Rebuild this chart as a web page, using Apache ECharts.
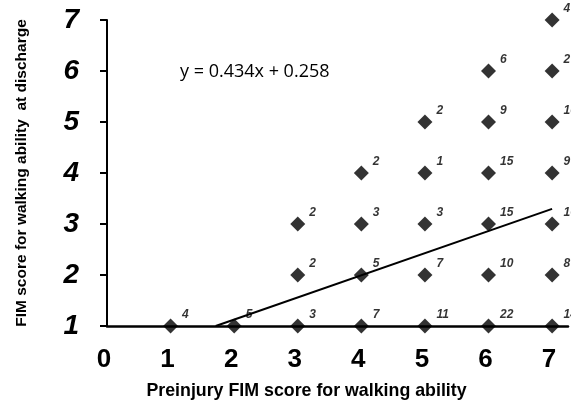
<!DOCTYPE html>
<html>
<head>
<meta charset="utf-8">
<script src="https://cdn.jsdelivr.net/npm/echarts@6/dist/echarts.min.js"></script>
<style>html,body{margin:0;padding:0;background:#fff}#c{width:571px;height:407px}</style>
</head>
<body>
<div id="c"></div>
<script>
// Preinjury score (x), discharge score (y), number of patients (n)
const pointX = [1, 2, 3, 3, 3, 4, 4, 4, 4, 5, 5, 5, 5, 5, 6, 6, 6, 6, 6, 6, 7, 7, 7, 7, 7, 7, 7];
const pointY = [1, 1, 1, 2, 3, 1, 2, 3, 4, 1, 2, 3, 4, 5, 1, 2, 3, 4, 5, 6, 1, 2, 3, 4, 5, 6, 7];
const counts = [4, 5, 3, 2, 2, 7, 5, 3, 2, 11, 7, 3, 1, 2, 22, 10, 15, 15, 9, 6, 14, 8, 16, 9, 10, 2, 4];
const slope = 0.434;
const intercept = 0.258;
const trendX = [(1 - intercept) / slope, 7];
const equationText = 'y = 0.434x + 0.258';
const xTicks = [0, 1, 2, 3, 4, 5, 6, 7];
const yTicks = [1, 2, 3, 4, 5, 6, 7];

const chart = echarts.init(document.getElementById('c'), null, {renderer: 'canvas'});
const scatterData = pointX.map((x, i) => [x, pointY[i], counts[i]]);
const trendData = trendX.map(x => [x, slope * x + intercept]);

chart.setOption({
  animation: false,
  backgroundColor: '#fff',
  grid: {left: 107, top: 20, right: 0, bottom: 81, containLabel: false},
  xAxis: {
    type: 'value', min: 0, max: 7.25, interval: 1,
    name: 'Preinjury FIM score for walking ability',
    nameLocation: 'middle', nameGap: 56,
    nameTextStyle: {fontFamily: 'Liberation Sans', fontWeight: 'bold', fontSize: 17.8, color: '#000', padding: [0, 62, 0, 0]},
    axisLine: {show: true, lineStyle: {color: '#000', width: 2.5}},
    axisTick: {show: false},
    splitLine: {show: false},
    axisLabel: {
      fontFamily: 'Liberation Sans', fontWeight: 'bold', fontSize: 26, color: '#000', margin: 21,
      padding: [0, 6, 0, 0],
      formatter: v => xTicks.indexOf(v) >= 0 ? String(v) : ''
    }
  },
  yAxis: {
    type: 'value', min: 1, max: 7, interval: 1,
    name: 'FIM score for walking ability  at discharge',
    nameLocation: 'middle', nameGap: 77, nameRotate: 90,
    nameTextStyle: {fontFamily: 'Liberation Sans', fontWeight: 'bold', fontSize: 15.5, color: '#000'},
    axisLine: {show: true, lineStyle: {color: '#000', width: 2}},
    axisTick: {show: true, inside: false, length: 7, lineStyle: {color: '#000', width: 2}},
    splitLine: {show: false},
    axisLabel: {
      fontFamily: 'Liberation Sans', fontWeight: 'bold', fontStyle: 'italic', fontSize: 28, color: '#000', margin: 28,
      formatter: v => yTicks.indexOf(v) >= 0 ? String(v) : ''
    }
  },
  graphic: [{
    type: 'text', left: 180, top: 63,
    style: {text: equationText, font: '18px "Open Sans"', fill: '#000'}
  }],
  series: [
    {
      type: 'line', data: trendData, symbol: 'none', silent: true, z: 1,
      lineStyle: {color: '#000', width: 2}
    },
    {
      type: 'scatter', data: scatterData, symbol: 'diamond', symbolSize: 15, z: 3,
      itemStyle: {color: '#000'},
      clip: false,
      label: {
        show: true, position: 'right', offset: [-1, -11],
        formatter: p => String(p.value[2]),
        fontFamily: 'Liberation Sans', fontWeight: 'bold', fontStyle: 'italic', fontSize: 12, color: '#000'
      }
    }
  ]
});
</script>
</body>
</html>
